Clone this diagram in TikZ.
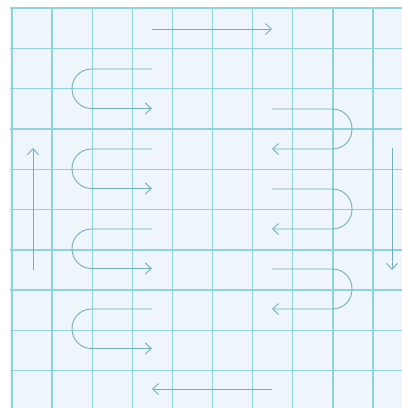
\documentclass[tikz,border=0pt]{standalone}
\usepackage{xcolor}
\definecolor{gridcyan}{HTML}{8ED3DE}
\definecolor{paper}{HTML}{EEF6FB}
\definecolor{penteal}{HTML}{72AEBC}
\usetikzlibrary{arrows.meta,calc}

\begin{document}
\begin{tikzpicture}[
  x=1pt,y=-1pt,
  grid/.style={draw=gridcyan,line width=1.4pt},
  arr/.style={draw=penteal,line width=0.9pt,-{Straight Barb[length=6pt,width=11pt]}},
  uarr/.style={arr,rounded corners=19.5pt}]
\useasboundingbox (0,0) rectangle (402,408);
\fill[paper] (10,7) rectangle (402,408);
% squared paper
\foreach \i in {0,...,9} \draw[grid] ({12+40.1*\i},7) -- ({12+40.1*\i},408);
\foreach \j in {0,...,9} \draw[grid] (10,{8+40.3*\j}) -- (402,{8+40.3*\j});
% straight arrows
\coordinate (topS) at (152,29);
\coordinate (topE) at (272,29);
\coordinate (botS) at (272,389);
\coordinate (botE) at (152,389);
\coordinate (leftS) at (33,270);
\coordinate (leftE) at (33,148);
\coordinate (rightS) at (392,148);
\coordinate (rightE) at (392,270);
\draw[arr] (topS) -- (topE);
\draw[arr] (botS) -- (botE);
\draw[arr] (leftS) -- (leftE);
\draw[arr] (rightS) -- (rightE);
% loops on the left, turning right
\foreach \y [count=\k] in {69,149,229,309}{
  \coordinate (la\k) at (152,\y);
  \coordinate (lb\k) at (152,\y+39.5);
  \draw[uarr] (la\k) -- (72,\y) -- (72,\y+39.5) -- (lb\k);
}
% loops on the right, turning left
\foreach \y [count=\k] in {109,189,269}{
  \coordinate (ra\k) at (272,\y);
  \coordinate (rb\k) at (272,\y+40);
  \draw[uarr] (ra\k) -- (352,\y) -- (352,\y+40) -- (rb\k);
}
\end{tikzpicture}
\end{document}
